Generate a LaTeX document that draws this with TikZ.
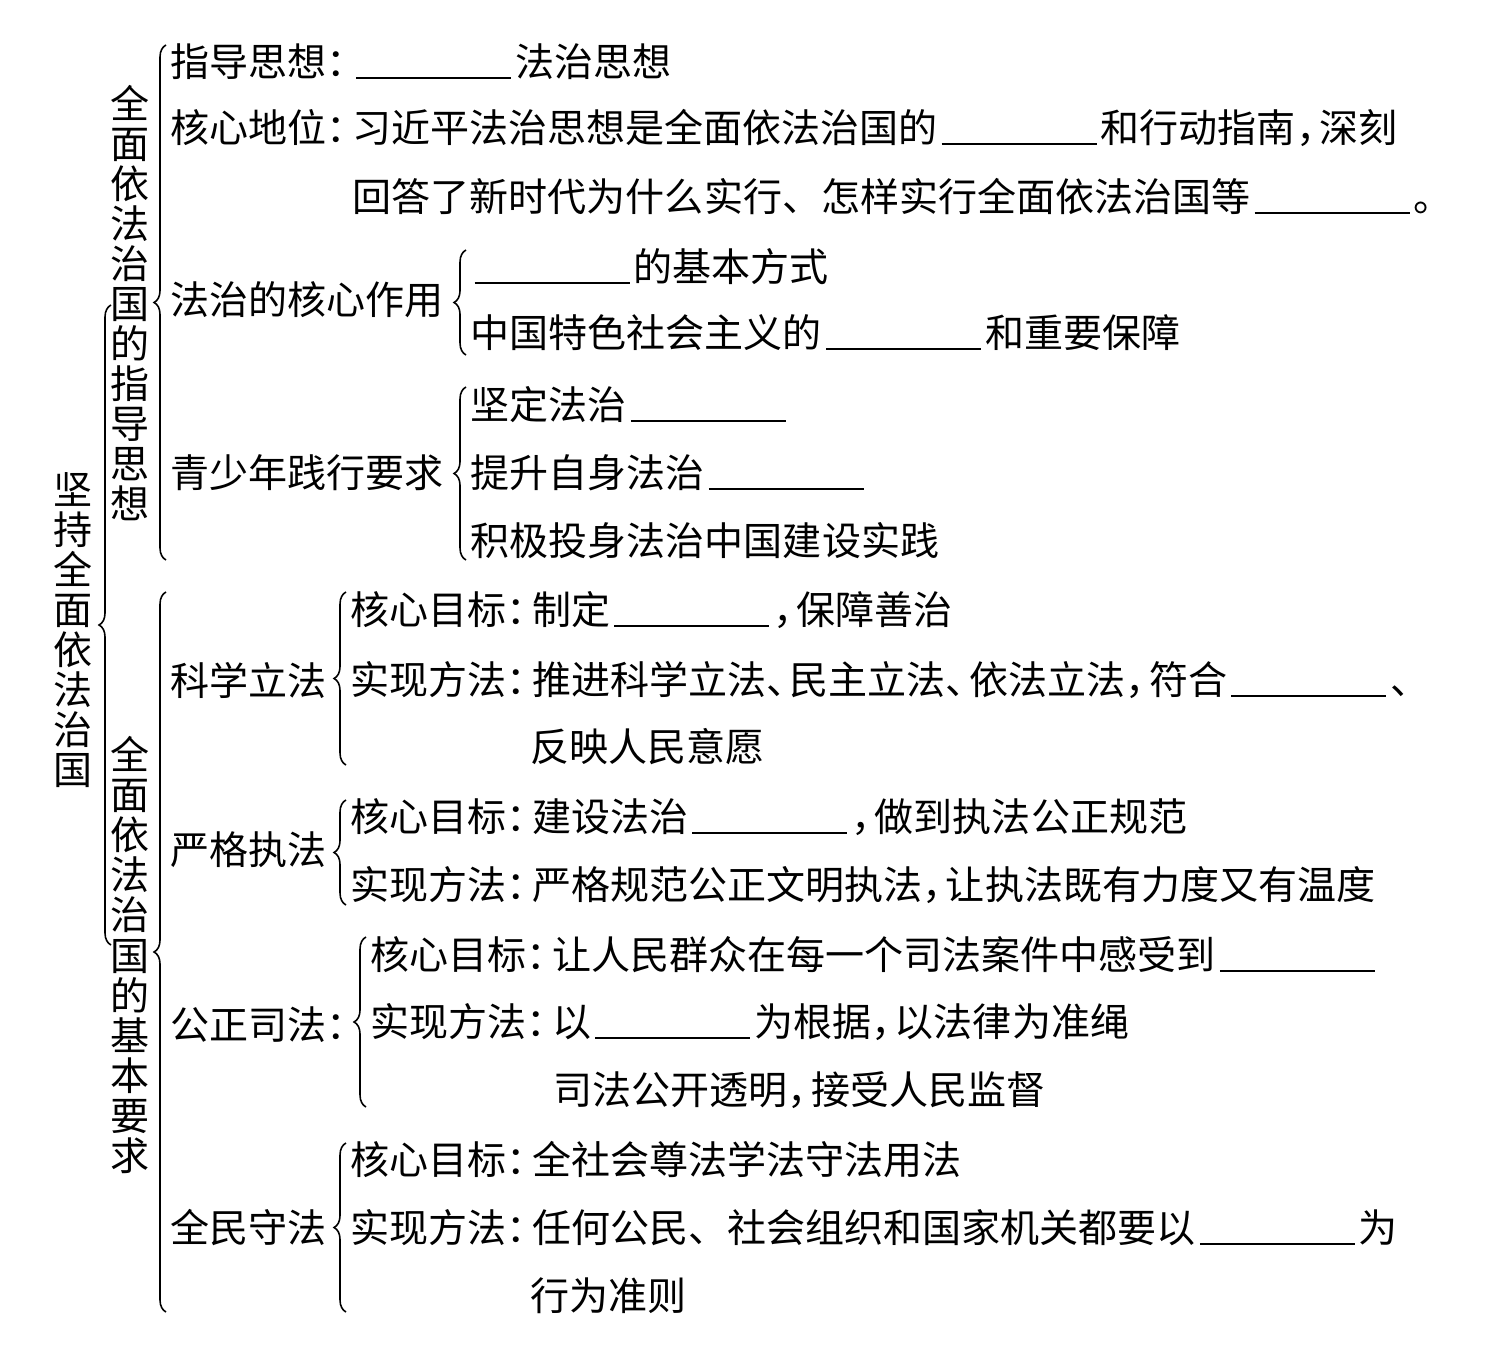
\documentclass[tikz,border=0pt]{standalone}
\usepackage{fontspec}
\setmainfont{Noto Sans CJK SC}
\usetikzlibrary{decorations.pathreplacing}
\newcommand{\blank}{\hspace{0.04cm}\rule[-0.06em]{1.55cm}{0.55pt}\hspace{0.04cm}}
\newcommand{\hc}{\makebox[0.65em][l]{：}}
\newcommand{\hd}{\makebox[0.6em][l]{，}}
\newcommand{\hdun}{\makebox[0.6em][l]{、}}

\begin{document}
\begin{tikzpicture}[x = 0.01cm, y = -0.01cm,
    font = \fontsize{11.1pt}{11.4pt}\selectfont,
    txt/.style = {anchor = west, inner sep = 0pt},
    vtxt/.style = {align = center, inner sep = 0pt},
    brc/.style = {decorate, decoration = {brace, amplitude = 3.4pt}, line width = 0.45pt}]
      \useasboundingbox (0, 0) rectangle (1503, 1358);

      % vertical titles
      \node[vtxt] (jc) at (73, 630) {坚\\持\\全\\面\\依\\法\\治\\国};
      \node[vtxt] (zdsx) at (130, 303) {全\\面\\依\\法\\治\\国\\的\\指\\导\\思\\想};
      \node[vtxt] (jbyq) at (130, 955) {全\\面\\依\\法\\治\\国\\的\\基\\本\\要\\求};

      % braces: line x / top / bottom
      \foreach \x/\ya/\yb in {105/305/945, 160/45/560, 160/592/1312, 460/250/355, %
        460/387/560, 340/592/765, 340/800/905, 360/937/1107, 340/1143/1312} {
        \draw[brc] (\x + 6, \yb) -- (\x + 6, \ya);
      }

      % guiding thought
      \node[txt] (zd) at (170, 62) {指导思想\hc\blank 法治思想};
      \node[txt] (hxdw) at (170, 128) {核心地位\hc 习近平法治思想是全面依法治国的\blank 和行动指南\hd 深刻};
      \node[txt] (hxdw2) at (352, 197) {回答了新时代为什么实行、怎样实行全面依法治国等\blank 。};

      \node[txt] (fzzy) at (170, 300) {法治的核心作用};
      \node[txt] (zy1) at (470, 267) {\blank 的基本方式};
      \node[txt] (zy2) at (470, 333) {中国特色社会主义的\blank 和重要保障};

      \node[txt] (qsn) at (170, 473) {青少年践行要求};
      \node[txt] (sj1) at (470, 405) {坚定法治\blank};
      \node[txt] (sj2) at (470, 473) {提升自身法治\blank};
      \node[txt] (sj3) at (470, 541) {积极投身法治中国建设实践};

      % basic requirements
      \node[txt] (kxlf) at (170, 680) {科学立法};
      \node[txt] (kl1) at (350, 610) {核心目标\hc 制定\blank\hd 保障善治};
      \node[txt] (kl2) at (350, 680) {实现方法\hc 推进科学立法\hdun 民主立法\hdun 依法立法\hd 符合\blank\hdun};
      \node[txt] (kl3) at (530, 747) {反映人民意愿};

      \node[txt] (ygzf) at (170, 850) {严格执法};
      \node[txt] (yz1) at (350, 817) {核心目标\hc 建设法治\blank\hd 做到执法公正规范};
      \node[txt] (yz2) at (350, 885) {实现方法\hc 严格规范公正文明执法\hd 让执法既有力度又有温度};

      \node[txt] (gzsf) at (170, 1025) {公正司法\hc};
      \node[txt] (gs1) at (370, 955) {核心目标\hc 让人民群众在每一个司法案件中感受到\blank};
      \node[txt] (gs2) at (370, 1022) {实现方法\hc 以\blank 为根据\hd 以法律为准绳};
      \node[txt] (gs3) at (553, 1090) {司法公开透明\hd 接受人民监督};

      \node[txt] (qmsf) at (170, 1228) {全民守法};
      \node[txt] (qs1) at (350, 1160) {核心目标\hc 全社会尊法学法守法用法};
      \node[txt] (qs2) at (350, 1228) {实现方法\hc 任何公民、社会组织和国家机关都要以\blank 为};
      \node[txt] (qs3) at (530, 1296) {行为准则};
    \end{tikzpicture}
\end{document}
